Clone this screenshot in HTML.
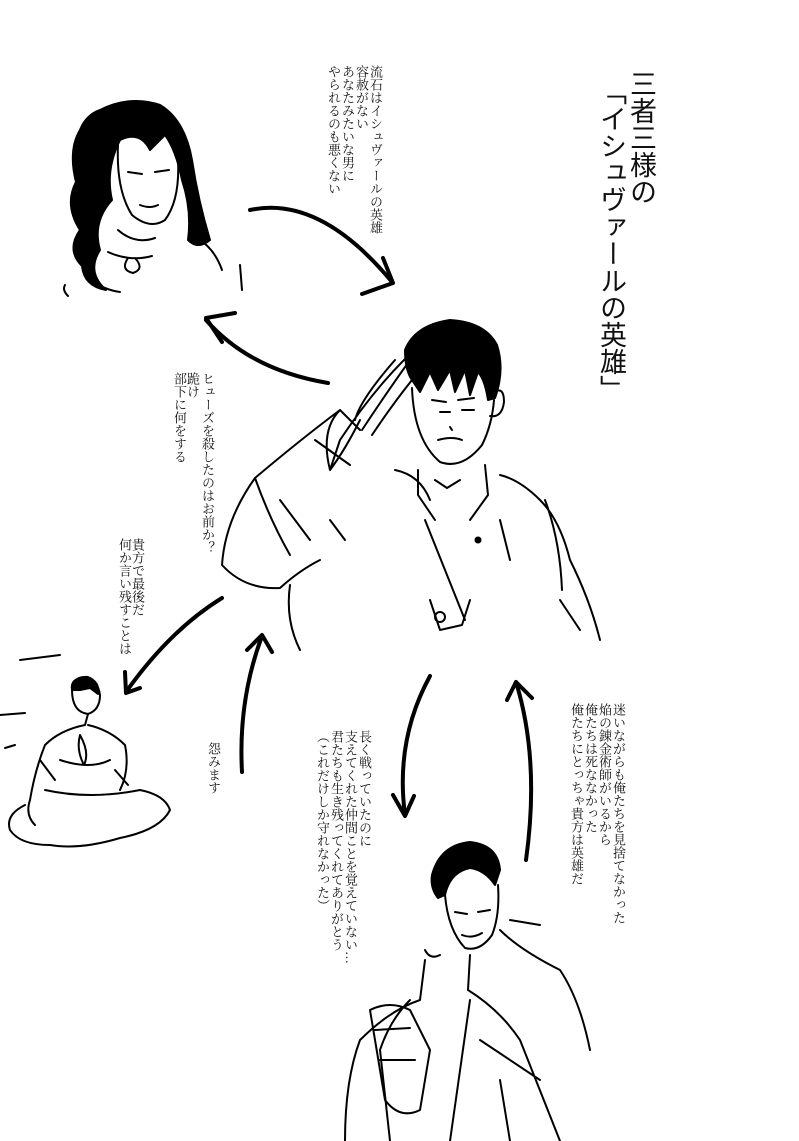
<!DOCTYPE html>
<html><head><meta charset="utf-8"><style>
html,body{margin:0;padding:0;background:#fff}
body{width:799px;height:1141px;position:relative;overflow:hidden;color:#111}
.v{position:absolute;writing-mode:vertical-rl;font-size:13px;line-height:14px;white-space:nowrap;font-family:"Liberation Serif","Noto Serif CJK SC",serif}
.t{position:absolute;writing-mode:vertical-rl;font-size:27px;line-height:30px;white-space:nowrap;font-family:"Liberation Sans","Noto Sans CJK JP",sans-serif}
svg{position:absolute;left:0;top:0}
</style></head><body>
<svg width="799" height="1141" viewBox="0 0 799 1141" fill="none" stroke="#000" stroke-linecap="round" stroke-linejoin="round">
<g stroke-width="4">
<path d="M250 210 Q320 195 392 282"/><path d="M383 258 L393 283 L362 294"/>
<path d="M206 320 Q250 370 328 383"/><path d="M235 313 L206 318 L222 342"/>
<path d="M222 598 Q170 630 126 692"/><path d="M125 672 L126 693 L140 688"/>
<path d="M242 772 Q238 700 262 636"/><path d="M247 650 L262 635 L272 652"/>
<path d="M430 676 Q395 740 405 815"/><path d="M393 795 L405 816 L414 796"/>
<path d="M526 860 Q540 760 516 682"/><path d="M507 700 L516 682 L532 698"/>
</g>
<!-- top-left woman -->
<path fill="#000" stroke-width="2" d="M100 110 Q130 95 160 105 Q185 120 192 160 Q198 200 210 240 Q198 250 188 240 Q192 210 182 180 Q176 150 165 135 L150 150 Q140 130 120 140 Q105 170 112 200 Q92 222 100 250 Q86 272 106 290 Q84 286 82 266 Q66 250 80 230 Q64 205 76 182 Q68 150 80 130 Q86 115 100 110Z"/>
<path stroke-width="2" d="M118 145 Q116 190 132 215 Q150 230 165 220 Q180 200 178 160 M128 172 l14 2 M155 172 l14 -2 M140 205 q10 4 18 0"/>
<path stroke-width="2" d="M118 230 Q135 245 155 238 M108 252 Q130 262 152 256 M128 258 q-8 12 5 15 q12 -4 2 -15 M200 240 Q215 250 222 270 M65 285 Q62 290 68 296 M240 265 L242 290 M90 280 Q105 290 120 292"/>
<!-- central man -->
<path fill="#000" stroke-width="2" d="M405 350 Q415 325 450 320 Q485 322 497 345 Q505 370 495 398 L488 400 Q485 380 478 372 L470 395 L465 370 L455 392 L450 370 L438 390 L430 372 L420 392 L412 380 Q405 370 405 350Z"/>
<path stroke-width="2" d="M412 388 Q414 440 440 462 Q462 470 482 445 Q492 425 494 400 M494 392 q10 -6 10 10 q-2 16 -14 14 M432 400 l14 2 M458 400 l16 -2 M440 412 l10 0 M462 410 l12 0 M438 440 q14 -4 24 0 M450 427 l2 3"/>
<path stroke-width="2" d="M418 470 L418 495 L435 520 M485 465 L488 495 L470 520 M435 480 L447 488 L460 480 M425 520 L465 620 M430 600 L440 630 L462 625 L470 600"/>
<circle cx="440" cy="617" r="5" stroke-width="2"/><circle cx="478" cy="540" r="3" fill="#000"/>
<path stroke-width="2" d="M360 420 Q345 450 330 470 L340 440 Q380 380 420 345 M355 420 Q360 400 395 360 M362 430 Q385 395 410 360 M372 435 Q392 405 412 380 M330 470 Q320 430 340 410 L360 430 M315 440 L350 465 M340 410 Q300 440 255 478 Q225 520 222 565 Q245 590 280 588 Q300 570 320 560 M290 585 Q285 620 300 650 M395 470 Q420 475 430 500 M500 475 Q520 480 540 500 Q560 520 570 560 Q590 600 600 640 M545 500 Q560 540 562 590 M255 478 Q270 520 290 555 M280 500 L310 540 M330 520 L345 540 M500 520 L510 560 M560 600 L580 630"/>
<!-- left seated man -->
<path stroke-width="2" d="M72 690 Q70 678 85 678 Q98 680 100 695 Q100 710 88 714 Q72 712 72 690Z"/>
<path fill="#000" stroke-width="2" d="M72 690 Q72 676 88 677 Q100 682 98 694 L90 688 L80 690Z"/>
<path stroke-width="2" d="M88 714 L85 725 Q60 730 45 745 Q35 770 30 800 Q25 815 35 825 M88 725 Q110 730 125 745 Q130 770 120 790 M60 760 Q90 770 110 760 M45 790 Q90 800 140 790 Q165 795 170 810 Q160 830 120 838 Q80 850 50 845 Q20 845 10 830 Q5 815 25 805 M80 735 q-4 15 4 30 q6 -12 -4 -30 M0 715 L25 713 M20 660 L60 655 M15 745 L5 748 M40 760 L55 780 M115 770 L128 785"/>
<!-- bottom man -->
<path fill="#000" stroke-width="2" d="M432 875 Q440 845 470 842 Q498 845 500 870 L495 885 Q485 870 470 868 Q450 872 445 895 L438 898 Q430 888 432 875Z"/>
<path stroke-width="2" d="M445 895 Q448 930 465 948 Q480 952 492 935 Q500 915 498 885 M455 912 l12 2 M478 912 l12 -2 M462 935 q10 4 20 -2 M425 950 Q430 960 440 955 M425 960 L420 1000 Q390 1010 360 1040 Q345 1080 345 1141 M470 955 L468 990 Q500 1010 520 1040 L560 1141 M500 930 Q520 950 560 970 Q580 1000 590 1050 M410 1000 Q390 1020 380 1050 L390 1141 M470 1000 L450 1141 M480 1040 L540 1080 M510 920 L540 925 M500 1080 L510 1141"/>
<path stroke-width="2" d="M370 1010 Q390 1000 410 1010 L430 1050 L420 1110 Q400 1120 385 1100 Z M375 1030 L410 1028 M380 1060 L415 1060"/>
</svg>
<div class="t" style="left:626px;top:70px">三者三様の</div>
<div class="t" style="left:596px;top:78px">「イシュヴァールの英雄」</div>
<div class="v" style="left:368px;top:65px">流石はイシュヴァールの英雄</div>
<div class="v" style="left:354px;top:65px">容赦がない</div>
<div class="v" style="left:340px;top:65px">あなたみたいな男に</div>
<div class="v" style="left:326px;top:65px">やられるのも悪くない</div>
<div class="v" style="left:200px;top:372px">ヒューズを殺したのはお前か？</div>
<div class="v" style="left:185px;top:372px">跪け</div>
<div class="v" style="left:172px;top:372px">部下に何をする</div>
<div class="v" style="left:130px;top:538px">貴方で最後だ</div>
<div class="v" style="left:117px;top:538px">何か言い残すことは</div>
<div class="v" style="left:206px;top:742px">怨みます</div>
<div class="v" style="left:357px;top:730px">長く戦っていたのに</div>
<div class="v" style="left:343px;top:730px">支えてくれた仲間ことを覚えていない…</div>
<div class="v" style="left:329px;top:730px">君たちも生き残ってくれてありがとう</div>
<div class="v" style="left:315px;top:730px">（これだけしか守れなかった）</div>
<div class="v" style="left:611px;top:703px">迷いながらも俺たちを見捨てなかった</div>
<div class="v" style="left:597px;top:703px">焔の錬金術師がいるから</div>
<div class="v" style="left:583px;top:703px">俺たちは死ななかった</div>
<div class="v" style="left:569px;top:703px">俺たちにとっちゃ貴方は英雄だ</div>
</body></html>
